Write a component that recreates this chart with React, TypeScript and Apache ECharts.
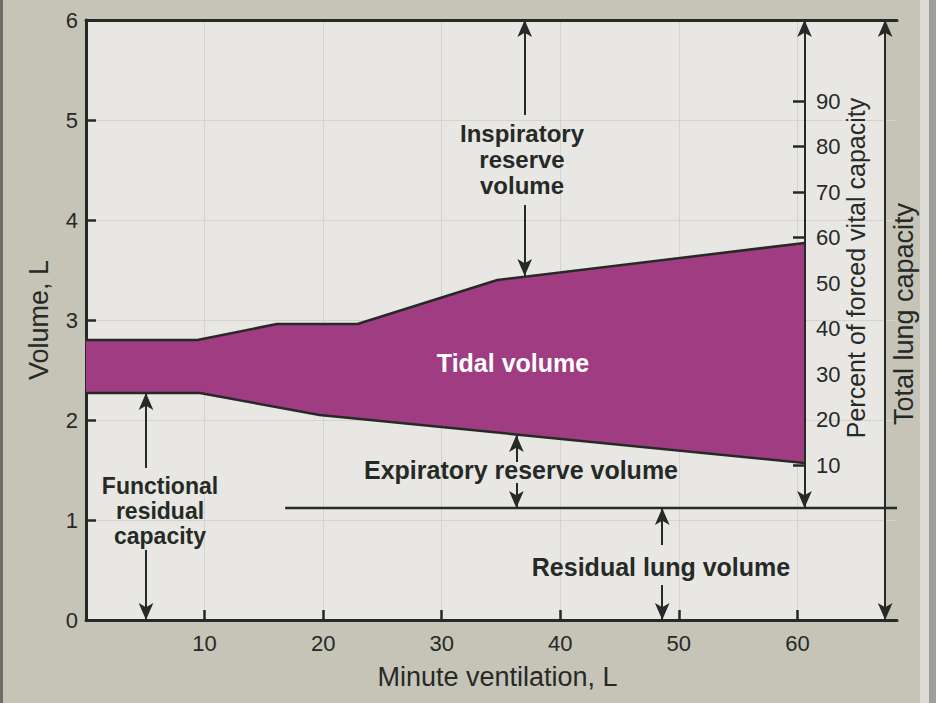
import React, { useEffect, useRef } from 'react';
import * as echarts from 'echarts';

// ---- data ----
const xTickValues = [10, 20, 30, 40, 50, 60];
const percentTickValues = [10, 20, 30, 40, 50, 60, 70, 80, 90];

// Tidal volume band (minute ventilation, L -> volume, L)
const upperX = [0, 9.4, 16.1, 22.9, 34.7, 60.6];
const upperV = [2.8, 2.8, 2.96, 2.96, 3.4, 3.77];
const lowerX = [0, 9.6, 19.7, 60.6];
const lowerV = [2.27, 2.27, 2.05, 1.57];

// Residual lung volume line
const residualX = [16.8, 68.4];
const residualV = [1.12, 1.12];

// Annotation arrows: x, tail volume, tip volume, double-headed
const arrowX = [37.0, 37.0, 36.3, 36.3, 48.6, 48.6, 5.06, 5.06, 60.6, 67.4];
const arrowFrom = [5.05, 4.15, 1.58, 1.37, 0.75, 0.35, 1.52, 0.7, 1.12, 0.0];
const arrowTo = [6.0, 3.44, 1.85, 1.12, 1.12, 0.0, 2.27, 0.0, 6.0, 6.0];
const arrowDouble = [false, false, false, false, false, false, false, false, true, true];

const INK = '#262a27';
const FONT = '"Liberation Sans", Arial, Helvetica, sans-serif';

export default function App() {
  const ref = useRef<HTMLDivElement>(null);
  useEffect(() => {
    if (!ref.current) return;
    const chart = echarts.init(ref.current, undefined, { renderer: 'svg' });

    const upperData = upperX.map((x, i) => [x, upperV[i]]);
    const lowerData = lowerX.map((x, i) => [x, lowerV[i]]);
    const residualData = residualX.map((x, i) => [x, residualV[i]]);

    const arrowSize = [11, 17];
    const markLineData = arrowX.map((x, i) => [
      { coord: [x, arrowFrom[i]], symbol: arrowDouble[i] ? 'arrow' : 'none', symbolSize: arrowSize },
      { coord: [x, arrowTo[i]], symbol: 'arrow', symbolSize: arrowSize },
    ]);

    const textStyleBase = { fill: INK, fontFamily: FONT };

    const option: any = {
      animation: false,
      backgroundColor: '#c6c3b7',
      textStyle: { fontFamily: FONT },
      grid: [
        { left: 86, top: 20, width: 811, height: 600, containLabel: false },
        { left: 805, top: 101, width: 10, height: 410, containLabel: false },
      ],
      xAxis: [
        {
          type: 'value', gridIndex: 0, min: 0, max: 68.4, interval: 10, position: 'bottom',
          name: 'Minute ventilation, L', nameLocation: 'middle', nameGap: 43,
          nameTextStyle: { fontSize: 27, color: INK, fontFamily: FONT, padding: [0, 0, 0, 12] },
          axisLine: { show: true, lineStyle: { color: INK, width: 3 } },
          axisTick: { show: true, inside: true, length: 10, lineStyle: { color: INK, width: 2.5 }, customValues: xTickValues },
          axisLabel: {
            show: true, fontSize: 22, color: INK, margin: 12, fontFamily: FONT, customValues: xTickValues,
            formatter: (v: number) => (xTickValues.indexOf(v) >= 0 ? String(v) : ''),
          },
          splitLine: { show: true, lineStyle: { color: '#d4d3cc', width: 1 } },
        },
        {
          type: 'value', gridIndex: 0, min: 0, max: 68.2, position: 'top',
          axisLine: { show: true, onZero: false, lineStyle: { color: INK, width: 3 } },
          axisTick: { show: false }, axisLabel: { show: false }, splitLine: { show: false },
        },
        { type: 'value', gridIndex: 1, min: 0, max: 1, show: false },
      ],
      yAxis: [
        {
          type: 'value', gridIndex: 0, min: 0, max: 6, interval: 1,
          name: 'Volume, L', nameLocation: 'middle', nameRotate: 90, nameGap: 34,
          nameTextStyle: { fontSize: 27, color: INK, fontFamily: FONT },
          axisLine: { show: true, lineStyle: { color: INK, width: 3 } },
          axisTick: { show: true, inside: true, length: 10, lineStyle: { color: INK, width: 2.5 } },
          axisLabel: { show: true, fontSize: 22, color: INK, margin: 8, fontFamily: FONT },
          splitLine: { show: true, lineStyle: { color: '#d4d3cc', width: 1 } },
        },
        {
          type: 'value', gridIndex: 1, min: 0, max: 90, interval: 10, position: 'left',
          axisLine: { show: false },
          axisTick: { show: true, inside: false, length: 12, lineStyle: { color: INK, width: 2.5 }, customValues: percentTickValues },
          axisLabel: {
            show: true, inside: true, fontSize: 22, color: INK, margin: 11, fontFamily: FONT, customValues: percentTickValues,
            formatter: (v: number) => (v === 0 ? '' : String(v)),
          },
          splitLine: { show: false },
        },
      ],
      series: [
        {
          type: 'custom', xAxisIndex: 0, yAxisIndex: 0, z: 2, silent: true,
          data: [[0, 0]],
          renderItem: (_params: any, api: any) => {
            const pts: number[][] = [];
            upperData.forEach((p) => pts.push(api.coord(p)));
            for (let i = lowerData.length - 1; i >= 0; i--) pts.push(api.coord(lowerData[i]));
            return { type: 'polygon', shape: { points: pts }, style: { fill: '#a03d82' } };
          },
        },
        {
          type: 'line', xAxisIndex: 0, yAxisIndex: 0, data: upperData, showSymbol: false, z: 3, silent: true,
          lineStyle: { color: INK, width: 2.5 },
        },
        {
          type: 'line', xAxisIndex: 0, yAxisIndex: 0, data: lowerData, showSymbol: false, z: 3, silent: true,
          lineStyle: { color: INK, width: 2.5 },
        },
        {
          type: 'line', xAxisIndex: 0, yAxisIndex: 0, data: residualData, showSymbol: false, z: 3, silent: true,
          lineStyle: { color: INK, width: 2.5 },
          markLine: {
            silent: true, symbol: ['none', 'arrow'], symbolSize: 14, precision: 4,
            label: { show: false },
            lineStyle: { color: INK, width: 2, type: 'solid' },
            emphasis: { disabled: true },
            data: markLineData,
          },
        },
      ],
      graphic: [
        { type: 'rect', z: -10, silent: true, shape: { x: 86, y: 20, width: 799, height: 600 }, style: { fill: '#e8e7e3' } },
        { type: 'rect', z: -10, silent: true, shape: { x: 920, y: 0, width: 9, height: 703 }, style: { fill: '#dcdbd6' } },
        { type: 'rect', z: -10, silent: true, shape: { x: 929, y: 0, width: 7, height: 703 }, style: { fill: '#9e9e9c' } },
        { type: 'rect', z: -10, silent: true, shape: { x: 0, y: 0, width: 3, height: 703 }, style: { fill: '#6d6c66' } },
        {
          type: 'text', z: 10, x: 522, y: 159,
          style: { ...textStyleBase, text: 'Inspiratory\nreserve\nvolume', fontSize: 24, fontWeight: 'bold', lineHeight: 26, align: 'center', verticalAlign: 'middle' },
        },
        {
          type: 'text', z: 10, x: 513, y: 363,
          style: { fill: '#ffffff', fontFamily: FONT, text: 'Tidal volume', fontSize: 25, fontWeight: 'bold', align: 'center', verticalAlign: 'middle' },
        },
        {
          type: 'text', z: 10, x: 521, y: 470,
          style: { ...textStyleBase, text: 'Expiratory reserve volume', fontSize: 25, fontWeight: 'bold', align: 'center', verticalAlign: 'middle' },
        },
        {
          type: 'text', z: 10, x: 661, y: 567,
          style: { ...textStyleBase, text: 'Residual lung volume', fontSize: 25, fontWeight: 'bold', align: 'center', verticalAlign: 'middle' },
        },
        {
          type: 'text', z: 10, x: 160, y: 511,
          style: { ...textStyleBase, text: 'Functional\nresidual\ncapacity', fontSize: 23, fontWeight: 'bold', lineHeight: 25, align: 'center', verticalAlign: 'middle' },
        },
        {
          type: 'text', z: 10, x: 856, y: 268, rotation: Math.PI / 2,
          style: { ...textStyleBase, text: 'Percent of forced vital capacity', fontSize: 25, align: 'center', verticalAlign: 'middle' },
        },
        {
          type: 'text', z: 10, x: 904, y: 314, rotation: Math.PI / 2,
          style: { ...textStyleBase, text: 'Total lung capacity', fontSize: 27, align: 'center', verticalAlign: 'middle' },
        },
      ],
    };

    chart.setOption(option);
    return () => chart.dispose();
  }, []);

  return (
    <div
      ref={ref}
      style={{ position: 'fixed', left: 0, top: 0, width: 936, height: 703, background: '#c6c3b7' }}
    />
  );
}
